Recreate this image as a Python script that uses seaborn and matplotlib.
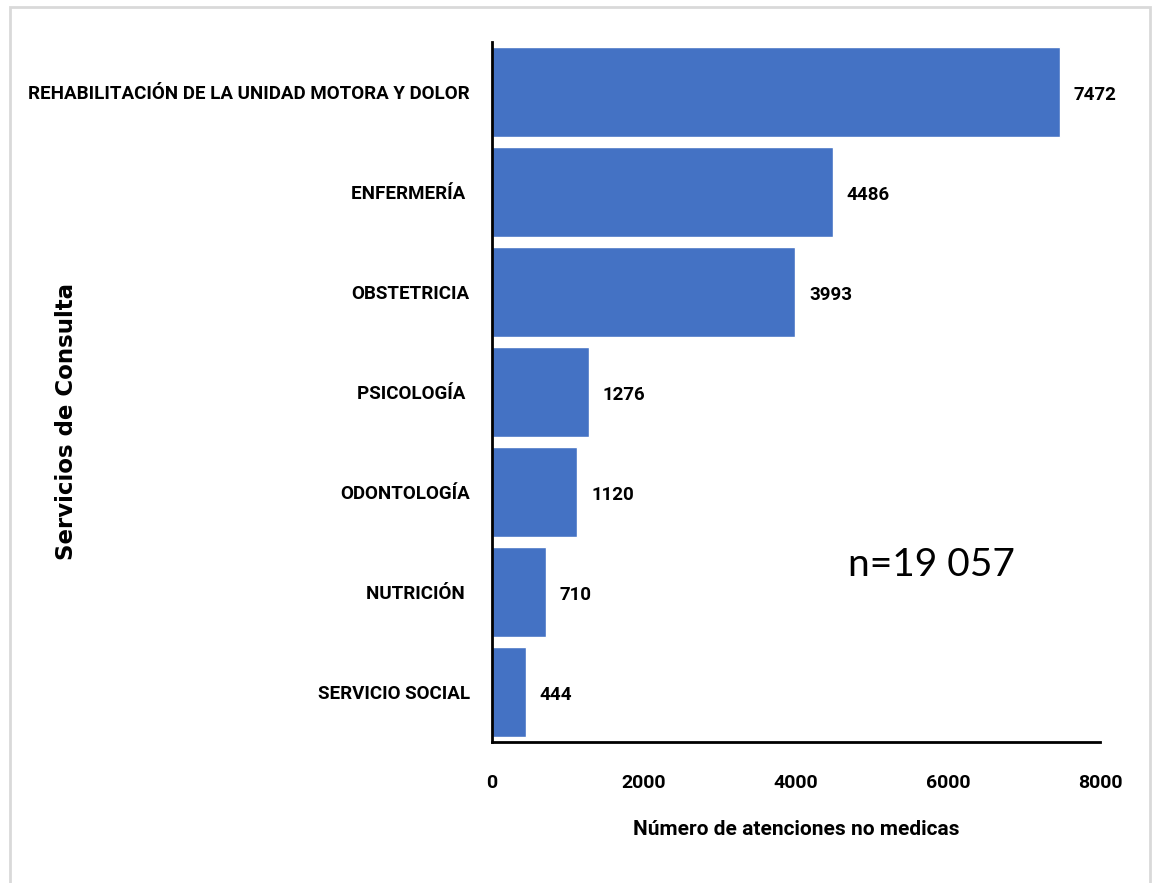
import matplotlib
matplotlib.use('Agg')
import matplotlib.pyplot as plt
import seaborn as sns
import pandas as pd
from matplotlib.patches import Rectangle

servicios = ['REHABILITACIÓN DE LA UNIDAD MOTORA Y DOLOR', 'ENFERMERÍA ', 'OBSTETRICIA',
             'PSICOLOGÍA ', 'ODONTOLOGÍA', 'NUTRICIÓN ', 'SERVICIO SOCIAL']
atenciones = [7472, 4486, 3993, 1276, 1120, 710, 444]
x_ticks = [0, 2000, 4000, 6000, 8000]

df = pd.DataFrame({'servicio': servicios, 'atenciones': atenciones})

sns.set_style('white')
plt.rcParams['font.family'] = ['Roboto', 'DejaVu Sans']
plt.rcParams['text.color'] = 'black'
plt.rcParams['xtick.color'] = 'black'
plt.rcParams['ytick.color'] = 'black'
plt.rcParams['axes.labelcolor'] = 'black'

fig = plt.figure(figsize = (11.55, 8.83), dpi = 100)
ax = fig.add_axes([492 / 1155, 1 - 742 / 883, 608 / 1155, 700 / 883])

sns.barplot(data = df, x = 'atenciones', y = 'servicio', color = '#4472C4', saturation = 1,
            width = 0.9, ax = ax)

for i, v in enumerate(atenciones):
    ax.annotate(str(v), (v, i), xytext = (10, -2), textcoords = 'offset points',
                ha = 'left', va = 'center', fontsize = 13.5, fontweight = 'bold', color = 'black')

ax.set_xlim(0, 8000)
ax.set_ylim(6.5, -0.5)
ax.set_xticks(x_ticks)
ax.set_xticklabels([str(t) for t in x_ticks], fontsize = 14, fontweight = 'bold')
ax.tick_params(axis = 'x', length = 0, pad = 23)
ax.tick_params(axis = 'y', length = 0, pad = 16, labelsize = 13.5)
for lbl in ax.get_yticklabels():
    lbl.set_fontweight('bold')

ax.set_xlabel('Número de atenciones no medicas', fontsize = 15, fontweight = 'bold', labelpad = 20)
ax.set_ylabel('')
fig.text(67 / 1155, 1 - 422 / 883, 'Servicios de Consulta', rotation = 90, ha = 'center', va = 'center',
         fontsize = 16.5, fontweight = 'bold', family = ['DejaVu Sans'])
fig.text(931 / 1155, 1 - 565 / 883, 'n=19 057', ha = 'center', va = 'center', fontsize = 28,
         family = ['Lato', 'DejaVu Sans'])

for s in ['top', 'right']:
    ax.spines[s].set_visible(False)
for s in ['left', 'bottom']:
    ax.spines[s].set_color('black')
    ax.spines[s].set_linewidth(2)

fig.patches.append(Rectangle((10 / 1155, -0.01), 1140 / 1155, 1 - 7 / 883 + 0.01,
                             transform = fig.transFigure, fill = False,
                             edgecolor = '#D9D9D9', linewidth = 2))

fig.savefig('out.png', dpi = 100)
